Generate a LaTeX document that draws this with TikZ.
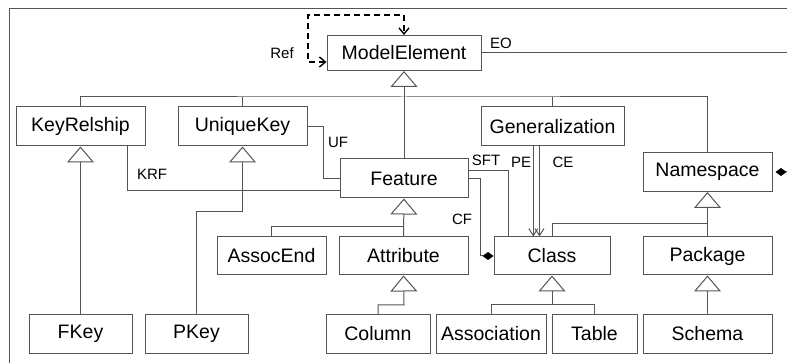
\documentclass[tikz,border=0pt]{standalone}
\usepackage{fontspec}
\setmainfont{Liberation Sans}
\usetikzlibrary{arrows.meta}
\definecolor{umlline}{HTML}{555555}
\begin{document}
\begin{tikzpicture}
[x=1pt,y=-1pt,
  umlbox/.style={shape=rectangle,draw=umlline,line width=1pt,inner sep=0pt,
    font=\fontsize{19.5}{22}\selectfont},%
  linedecorate/.style={-,draw=umlline,line width=1pt},%
  gen/.style={linedecorate,-{Triangle[open,length=16pt,width=27pt]}},%
  nav/.style={linedecorate,-{Straight Barb[length=7pt,width=9pt]}},%
  comp/.style={linedecorate,-{Diamond[length=11pt,width=8pt,color=black,fill=black]}},%
  selfref/.style={draw=black,line width=1.4pt,dash pattern=on 6pt off 4pt,
    {Straight Barb[length=6pt,width=10pt]}-{Straight Barb[length=6pt,width=10pt]}},%
  rolelabel/.style={font=\fontsize{15}{17}\selectfont,inner sep=0pt}]
\useasboundingbox (0,0) rectangle (787,363);
\draw [linedecorate] (9,363) -- (9,9) -- (787,9);
%% classes
\foreach \nodename/\x/\y/\w/\h in {
  ModelElement/404/53/154/35,
  KeyRelship/80.5/126.5/129/39, UniqueKey/242.5/126.5/129/39,
  Generalization/552.5/126.5/143/39, Namespace/707.5/172/129/39,
  Feature/404/178.5/128/39,
  AssocEnd/271.5/256/109/38, Attribute/403.5/256/129/38,
  Class/552/256/116/38, Package/707.5/256/129/38,
  FKey/80.5/334/103/38, PKey/196.5/334/103/38, Column/378/334/104/38,
  Association/491/334/110/38, Table/594.5/334/85/38, Schema/707.5/334/129/38}
{
  \node [umlbox,minimum width=\w,minimum height=\h] (\nodename) at (\x,\y) {\nodename};
}
%% bend points
\coordinate (meHub) at (404,97);
\coordinate (featHub) at (404,227);
\coordinate (attHub) at (404,305);
\coordinate (clsHub) at (552,305);
\coordinate (nsHub) at (707.5,224);
\coordinate (pkBend) at (242.5,211.5);
\coordinate (ufCorner) at (323,178.5);
\coordinate (cfCorner) at (480,256);
\coordinate (refCorner) at (308,15);
\coordinate (eoEnd) at (787,53);
\coordinate (nsEnd) at (787,172);
%% generalizations
\draw [gen] (Feature) -- (ModelElement);
\draw [linedecorate] (KeyRelship.north) |- (meHub) -| (Namespace.north);
\draw [linedecorate] (UniqueKey.north) -- (UniqueKey.north |- meHub);
\draw [linedecorate] (Generalization.north) -- (Generalization.north |- meHub);
\draw [gen] (Attribute) -- (Feature);
\draw [linedecorate] (AssocEnd.north) |- (featHub);
\draw [gen] (Column.north) |- (attHub) -- (Attribute.south);
\draw [gen] (Association.north) |- (clsHub) -- (Class.south);
\draw [linedecorate] (Table.north) |- (clsHub);
\draw [gen] (Package) -- (Namespace);
\draw [linedecorate] (Class.north) |- (nsHub);
\draw [gen] (Schema) -- (Package);
\draw [gen] (FKey) -- (KeyRelship);
\draw [gen] (PKey.north) |- (pkBend) -- (UniqueKey.south);
%% associations
\draw [selfref] ([yshift=-9pt]ModelElement.west) -| (refCorner) -| (ModelElement.north);
\draw [linedecorate] (ModelElement.east) -- (eoEnd);
\draw [linedecorate] (UniqueKey.east) -| (ufCorner) -- (Feature.west);
\draw [linedecorate] ([xshift=46.5pt]KeyRelship.south) |- ([yshift=-12.5pt]Feature.west);
\draw [linedecorate] ([yshift=7.5pt]Feature.east) -| ([xshift=-44pt]Class.north);
\draw [comp] (Feature.east) -| (cfCorner) -- (Class.west);
\draw [nav] ([xshift=-18.7pt]Class.north |- Generalization.south) -- ([xshift=-18.7pt]Class.north);
\draw [nav] ([xshift=-12.5pt]Class.north |- Generalization.south) -- ([xshift=-12.5pt]Class.north);
\draw [comp,shorten >=3pt] (nsEnd) -- (Namespace.east);
%% role names
\foreach \lblname/\x/\y/\txt in {
  refLbl/282/53/Ref, eoLbl/501/43/EO, ufLbl/338/142/UF, krfLbl/152/174/KRF,
  sftLbl/486/160/SFT, peLbl/521/162/PE, ceLbl/563/162/CE, cfLbl/462/219/CF}
{
  \node [rolelabel] (\lblname) at (\x,\y) {\txt};
}
\end{tikzpicture}
\end{document}
